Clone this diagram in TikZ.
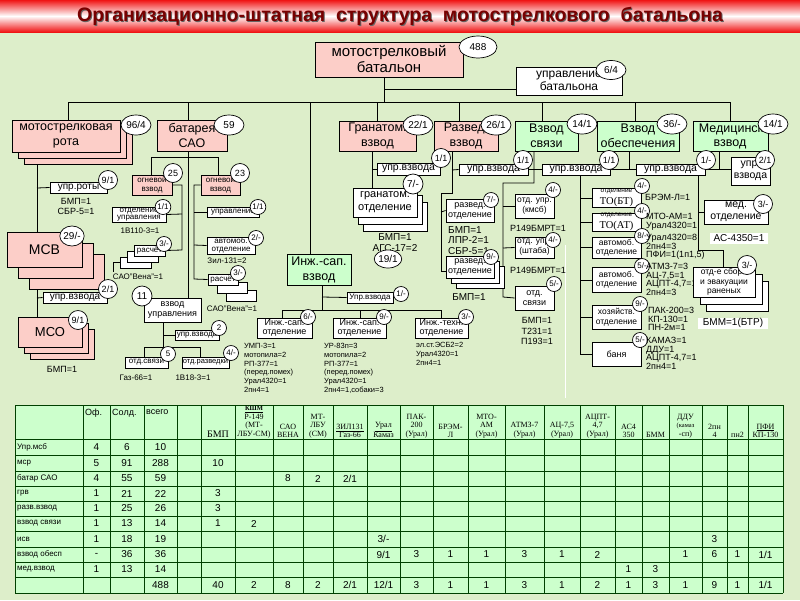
\documentclass[tikz,border=0pt]{standalone}
\usepackage{fontspec}
\setmainfont{Liberation Sans}
\newfontfamily\serifx{Liberation Serif}
\usetikzlibrary{shapes.geometric,backgrounds}
\definecolor{bgc}{RGB}{221,238,202}
\definecolor{pinkc}{RGB}{252,206,200}
\definecolor{greenc}{RGB}{204,255,204}
\definecolor{cellc}{RGB}{204,255,204}
\definecolor{titlec}{RGB}{120,0,0}
\definecolor{bandc}{RGB}{240,20,20}
\newcommand\fs[2]{\fontsize{#1}{#2}\selectfont}
\newcommand\bx[7]{\node[#6, minimum width={#4pt-#2pt}, minimum height={#5pt-#3pt}] (#1) at ({(#2+#4)/2},{(#3+#5)/2}) {#7};}
\newcommand\el[6]{\node[lab, minimum width=#4pt, minimum height=#5pt] (#1) at (#2,#3) {#6};}
\newcommand\es[4]{\node[lab, font=\fs{8}{9}, minimum width=15pt, minimum height=15pt] (#1) at (#2,#3) {#4};}
\newcommand\elm[4]{\node[lab, font=\fs{9}{10}, minimum width=19pt, minimum height=19pt] (#1) at (#2,#3) {#4};}
\newcommand\colx[1]{\ifcase\numexpr#1\relax 15\or 83\or 110\or 144\or 177\or 201\or 235\or 273\or 303\or 333\or 367\or 400\or 433\or 468\or 505\or 544\or 580\or 615\or 642\or 669\or 702\or 727\or 748\or 783\fi}
\newcommand\rowy[1]{\ifcase\numexpr#1\relax 405\or 439\or 455\or 471\or 486\or 501\or 516\or 531\or 547\or 562\or 577\or 593\fi}
\newcommand\tc[3]{\pgfmathsetmacro\xa{(\colx{#2}+\colx{#2+1})/2}\pgfmathsetmacro\ya{(\rowy{#1}+\rowy{#1+1})/2}\node[tnum] (t#1x#2) at (\xa,\ya) {#3};}
\newcommand\hdr[2]{\pgfmathsetmacro\xa{(\colx{#1}+\colx{#1+1})/2}\node[hd, anchor=south] (h#1) at (\xa,438) {#2};}
\tikzset{
  pbox/.style={draw=black, fill=pinkc, inner sep=0pt, align=center, line width=0.8pt},
  gbox/.style={draw=black, fill=greenc, inner sep=0pt, align=center, line width=0.8pt},
  wbox/.style={draw=black, fill=white, inner sep=0pt, align=center, line width=0.8pt},
  lab/.style={ellipse, draw=black, fill=white, inner sep=0pt, line width=0.7pt, font=\fs{10}{11}},
  txt/.style={inner sep=0pt, align=left, font=\fs{9}{10}},
  ln/.style={line width=0.8pt, draw=black},
  tl/.style={line width=1pt, draw=black!75!green},
  tnum/.style={inner sep=0pt, font=\fs{10}{11}},
  hd/.style={inner sep=0pt, align=center, font=\serifx\fs{8}{8.5}},
  rl/.style={inner sep=0pt, anchor=west, font=\fs{8}{9}},
  big/.style={font=\fs{12.5}{15}},
}
\begin{document}
\begin{tikzpicture}[x=1pt,y=-1pt]
\useasboundingbox (0,0) rectangle (800,600);
% ---------- title
\node[inner sep=0pt, font=\fs{19.5}{22}\bfseries, text=black!60, xshift=1pt, yshift=-1pt] (titleshadow) at (400,16) {Организационно-штатная\ \ структура\ \ мотострелкового\ \ батальона};
\node[inner sep=0pt, font=\fs{19.5}{22}\bfseries, text=titlec] (title) at (400,16) {Организационно-штатная\ \ структура\ \ мотострелкового\ \ батальона};
% ---------- top level
\bx{bat}{315}{42}{463}{77}{pbox,font=\fs{15}{16}}{мотострелковый\\батальон}
\el{e488}{478}{47}{38}{22}{488}
\bx{upr}{516}{67}{622}{95}{wbox,font=\fs{12}{13.5}}{управление\\батальона}
\el{e64}{611}{70}{30}{19}{6/4}
% ---------- second level
\bx{rota3}{24}{132}{132}{164}{pbox}{}
\bx{rota2}{18}{126}{126}{158}{pbox}{}
\bx{rota}{12}{120}{120}{152}{pbox,big}{мотострелковая\\рота}
\el{erota}{136}{125}{30}{20}{96/4}
\bx{bsao}{157}{120}{227}{151}{pbox,big}{батарея\\САО}
\el{ebsao}{229}{125}{30}{20}{59}
\bx{gran}{339}{121}{416}{151}{pbox,big}{Гранатом.\\взвод}
\el{egran}{418}{125}{30}{20}{22/1}
\bx{razv}{434}{121}{498}{151}{pbox,big}{Развед.\\взвод}
\el{erazv}{496}{125}{30}{20}{26/1}
\bx{svz}{515}{121}{578}{151}{gbox,big}{Взвод\\связи}
\el{esvz}{582}{124}{30}{20}{14/1}
\bx{obs}{597}{121}{679}{151}{gbox,big}{Взвод\\обеспечения}
\el{eobs}{672}{124}{30}{20}{36/-}
\bx{med}{693}{121}{768}{151}{gbox}{}
\node[inner sep=0pt, big] (medt1) at (738,129) {Медицинский};
\node[inner sep=0pt, big] (medt2) at (730,144) {взвод};
\el{emed}{773}{124}{30}{20}{14/1}
% ---------- рота
\bx{uprr}{50}{182}{107}{193}{wbox,font=\fs{10}{11}}{упр.роты}
\elm{euprr}{108}{180}{9/1}
\node[txt, align=center] (uprrt) at (76,206) {БМП=1\\СБР-5=1};
\bx{msv3}{29}{254}{104}{289}{pbox}{}
\bx{msv2}{18}{243}{93}{278}{pbox}{}
\bx{msv}{7}{232}{82}{267}{pbox,font=\fs{14}{16}}{МСВ}
\el{emsv}{72}{236}{20}{20}{29/-}
\bx{uprv}{43}{292}{107}{303}{wbox,font=\fs{10}{11}}{упр.взвода}
\elm{euprv}{108}{289}{2/1}
\bx{mso3}{30}{329}{94}{359}{pbox}{}
\bx{mso2}{24}{323}{88}{353}{pbox}{}
\bx{mso}{18}{317}{82}{347}{pbox,font=\fs{13}{15}}{МСО}
\elm{emso}{78}{320}{9/1}
\node[txt] (msot) at (62,369) {БМП=1};
% ---------- батарея
\bx{ognL}{132}{175}{172}{195}{pbox,font=\fs{8}{9}}{огневой\\взвод}
\elm{eognL}{173}{173}{25}
\bx{ognR}{201}{175}{240}{195}{pbox,font=\fs{8}{9}}{огневой\\взвод}
\elm{eognR}{240}{173}{23}
\bx{otdu}{112}{207}{166}{222}{wbox,font=\fs{8}{7.5}}{отделение\\управления}
\es{eotdu}{163}{207}{1/1}
\node[txt, font=\fs{8}{9}] (otdut) at (140,231) {1В110-3=1};
\bx{rasL3}{120}{257}{151}{268}{wbox}{}
\bx{rasL2}{127}{251}{158}{262}{wbox}{}
\bx{rasL}{134}{245}{165}{256}{wbox,font=\fs{8}{9}}{расчёт}
\es{erasL}{164}{244}{3/-}
\node[txt, font=\fs{8}{9}] (rasLt) at (138,277) {САО"Вена"=1};
\bx{uprb}{207}{207}{259}{217}{wbox,font=\fs{8}{9}}{управление}
\es{euprb}{258}{207}{1/1}
\bx{avtb}{207}{237}{255}{254}{wbox,font=\fs{8}{8}}{автомоб.\\отделение}
\es{eavtb}{256}{238}{2/-}
\node[txt, font=\fs{8}{9}] (avtbt) at (227,261) {Зил-131=2};
\bx{rasR3}{226}{290}{256}{301}{wbox}{}
\bx{rasR2}{217}{282}{247}{293}{wbox}{}
\bx{rasR}{208}{274}{238}{285}{wbox,font=\fs{8}{9}}{расчёт}
\es{erasR}{238}{273}{3/-}
\node[txt, font=\fs{8}{9}] (rasRt) at (232,309) {САО"Вена"=1};
\bx{vzu}{144}{298}{201}{322}{wbox,font=\fs{9}{10}}{взвод\\управления}
\el{evzu}{142}{296}{20}{20}{11}
\bx{uprvb}{175}{330}{219}{340}{wbox,font=\fs{8}{9}}{упр.взвода}
\es{euprvb}{219}{328}{2}
\bx{otsv}{125}{357}{168}{368}{wbox,font=\fs{8}{9}}{отд.связи}
\es{eotsv}{168}{354}{5}
\bx{otrz}{182}{357}{229}{368}{wbox,font=\fs{7.5}{9}}{отд.разведки}
\es{eotrz}{231}{353}{4/-}
\node[txt, font=\fs{8}{9}] (otsvt) at (136,378) {Газ-66=1};
\node[txt, font=\fs{8}{9}] (otrzt) at (193,378) {1В18-3=1};
% ---------- инж.-сап.
\bx{isv}{287}{254}{351}{285}{gbox,big}{Инж.-сап.\\взвод}
\bx{uprisv}{347}{292}{393}{303}{wbox,font=\fs{8}{9}}{Упр.взвода}
\es{euprisv}{401}{294}{1/-}
\bx{isL}{257}{318}{312}{338}{wbox,font=\fs{9}{9.5}}{Инж.-сап.\\отделение}
\es{eisL}{308}{317}{6/-}
\bx{isM}{333}{318}{386}{338}{wbox,font=\fs{9}{9.5}}{Инж.-сап.\\отделение}
\es{eisM}{384}{317}{9/-}
\bx{isR}{415}{318}{468}{338}{wbox,font=\fs{9}{9.5}}{Инж.-техн.\\отделение}
\es{eisR}{466}{317}{3/-}
\node[txt, anchor=north west, font=\fs{7.5}{8.8}] (isLt) at (244,343) {УМП-3=1\\мотопила=2\\РП-377=1\\(перед.помех)\\Урал4320=1\\2пн4=1};
\node[txt, anchor=north west, font=\fs{7.5}{8.8}] (isMt) at (324,343) {УР-83п=3\\мотопила=2\\РП-377=1\\(перед.помех)\\Урал4320=1\\2пн4=1,собаки=3};
\node[txt, anchor=north west, font=\fs{7.5}{8.8}] (isRt) at (416,342) {эл.ст.ЭСБ2=2\\Урал4320=1\\2пн4=1};
% ---------- гранатом.
\bx{uprg}{377}{163}{440}{175}{wbox,font=\fs{10.5}{12}}{упр.взвода}
\elm{euprg}{441}{158}{1/1}
\bx{grot3}{363}{202}{427}{231}{wbox}{}
\bx{grot2}{358}{195}{422}{224}{wbox}{}
\bx{grot}{353}{188}{417}{217}{wbox,font=\fs{11}{13}}{гранатом.\\отделение}
\el{egrot}{413}{184}{20}{20}{7/-}
\node[txt, align=center, font=\fs{10}{11}] (grott) at (395,243) {БМП=1\\АГС-17=2};
\el{e191}{388}{259}{26}{18}{19/1}
% ---------- развед.
\bx{uprz}{459}{164}{528}{175}{wbox,font=\fs{10.5}{12}}{упр.взвода}
\elm{euprz}{523}{160}{1/1}
\bx{rzo}{446}{199}{494}{222}{wbox,font=\fs{9}{10}}{развед.\\отделение}
\es{erzo}{491}{200}{7/-}
\node[txt, anchor=north west, font=\fs{10}{10.5}] (rzot) at (448,226) {БМП=1\\ЛПР-2=1\\СБР-5=1};
\bx{rzo3}{456}{266}{504}{288}{wbox}{}
\bx{rzo2}{451}{261}{499}{283}{wbox}{}
\bx{rzoB}{446}{256}{494}{278}{wbox,font=\fs{9}{10}}{развед.\\отделение}
\es{erzoB}{491}{257}{9/-}
\node[txt, font=\fs{10}{11}] (rzoBt) at (469,297) {БМП=1};
% ---------- связи
\bx{uprs}{542}{164}{610}{175}{wbox,font=\fs{10.5}{12}}{упр.взвода}
\elm{euprs}{609}{160}{1/1}
\bx{svk}{515}{194}{554}{218}{wbox,font=\fs{8.5}{10}}{отд. упр.\\(кмсб)}
\es{esvk}{553}{190}{4/-}
\node[txt] (svkt) at (538,228) {Р149БМРТ=1};
\bx{svs}{515}{237}{554}{258}{wbox,font=\fs{8.5}{10}}{отд. упр.\\(штаба)}
\es{esvs}{553}{240}{4/-}
\node[txt] (svst) at (538,270) {Р149БМРТ=1};
\bx{svo}{515}{286}{554}{310}{wbox,font=\fs{9}{10}}{отд.\\связи}
\es{esvo}{554}{284}{5/-}
\node[txt, align=center, font=\fs{9}{10.5}] (svot) at (537,331) {БМП=1\\Т231=1\\П193=1};
% ---------- обеспечения
\bx{upro}{636}{164}{705}{175}{wbox,font=\fs{10.5}{12}}{упр.взвода}
\elm{eupro}{706}{160}{1/-}
\bx{tobt}{592}{188}{641}{207}{wbox}{{\fs{6.5}{6.5}отделение}\\{\serifx\fs{10.5}{10}ТО(БТ)}}
\es{etobt}{642}{186}{4/-}
\bx{toat}{592}{213}{641}{231}{wbox}{{\fs{6.5}{6.5}отделение}\\{\serifx\fs{10.5}{10}ТО(АТ)}}
\es{etoat}{642}{211}{4/-}
\bx{avo1}{592}{237}{641}{258}{wbox,font=\fs{8.5}{9.5}}{автомоб.\\отделение}
\es{eavo1}{642}{236}{8/-}
\bx{avo2}{592}{267}{641}{292}{wbox,font=\fs{8.5}{9.5}}{автомоб.\\отделение}
\es{eavo2}{642}{266}{5/-}
\bx{hoz}{592}{305}{641}{329}{wbox,font=\fs{8.5}{9.5}}{хозяйств.\\отделение}
\es{ehoz}{640}{304}{9/-}
\bx{ban}{592}{342}{641}{366}{wbox,font=\fs{9}{10}}{баня}
\es{eban}{640}{340}{5/-}
\node[txt, anchor=north west, font=\fs{9}{8.6}] (tobtt) at (645,194) {БРЭМ-Л=1};
\node[txt, anchor=north west, font=\fs{9}{8.6}] (toatt) at (646,213) {МТО-АМ=1\\Урал4320=1};
\node[txt, anchor=north west, font=\fs{9}{8.6}] (avo1t) at (646,234) {Урал4320=8\\2пн4=3\\ПФИ=1(1п1,5)};
\node[txt, anchor=north west, font=\fs{9}{8.6}] (avo2t) at (646,263) {АТМЗ-7=3\\АЦ-7,5=1\\АЦПТ-4,7=1\\2пн4=3};
\node[txt, anchor=north west, font=\fs{9}{8.6}] (hozt) at (648,307) {ПАК-200=3\\КП-130=1\\ПН-2м=1};
\node[txt, anchor=north west, font=\fs{9}{8.6}] (bant) at (646,337) {КАМАЗ=1\\ДДУ=1\\АЦПТ-4,7=1\\2пн4=1};
% ---------- медицинский
\bx{uprm}{731}{157}{770}{185}{wbox,font=\fs{10.5}{12}}{упр.\\взвода}
\elm{euprm}{765}{160}{2/1}
\bx{mdo}{704}{200}{768}{224}{wbox,font=\fs{10.5}{12}}{мед.\\отделение}
\elm{emdo}{763}{204}{3/-}
\node[fill=white, inner sep=0pt, minimum width=58pt, minimum height=11pt, font=\fs{10}{11}] (mdot) at (739,238) {АС-4350=1};
\bx{sbr3}{706}{281}{768}{311}{wbox}{}
\bx{sbr2}{700}{274}{762}{304}{wbox}{}
\bx{sbr}{693}{267}{755}{297}{wbox,font=\fs{8.5}{9.5}}{отд-е сбора\\и эвакуации\\раненых}
\elm{esbr}{747}{265}{3/-}
\node[fill=white, inner sep=0pt, minimum width=70pt, minimum height=11pt, font=\fs{10}{11}] (sbrt) at (733,323) {БММ=1(БТР)};
% ---------- connectors (under the boxes)
\begin{pgfonlayer}{background}
\fill[bgc] (0,0) rectangle (800,600);
\shade[top color=bandc, bottom color=bandc, middle color=white] (0,0) rectangle (800,32);
\draw[white, line width=1pt] (565,245) -- (565,398);
\draw[ln] (384,77) -- (384,102);
\draw[ln] (384,89) -- (516,89);
\draw[ln] (68,102) -- (730,102);
\foreach \x in {68,188,377,459,542,635,730} \draw[ln] (\x,102) -- (\x,121);
\draw[ln] (310,102) -- (310,254);
% рота
\draw[ln] (37,152) -- (37,317);
\draw[ln] (37,188) -- (uprr.west);
\draw[ln] (37,298) -- (uprv.west);
% батарея
\draw[ln] (188,151) -- (188,298);
\draw[ln] (151,175) -- (151,157) -- (218,157) -- (218,175);
\draw[ln] (ognL.east) -- (182,185) -- (182,250) -- (rasL.east);
\draw[ln] (182,214) -- (otdu.east);
\draw[ln] (120,262) -| (113,272);
\draw[ln] (ognR.west) -- (194,185) -- (194,279) -- (rasR.west);
\draw[ln] (194,212) -- (uprb.west);
\draw[ln] (194,245) -- (avtb.west);
\draw[ln] (163,322) -- (163,347);
\draw[ln] (163,335) -- (uprvb.west);
\draw[ln] (144,357) -- (144,347) -- (200,347) -- (200,357);
% инж.-сап.
\draw[ln] (322,285) -- (322,310);
\draw[ln] (322,297) -- (uprisv.west);
\draw[ln] (282,318) -- (282,310) -- (441,310) -- (441,318);
\draw[ln] (360,310) -- (360,318);
% гранатом.
\draw[ln] (372,151) -- (372,188);
\draw[ln] (372,169) -- (uprg.west);
% развед.
\draw[ln] (452,151) -- (452,193) -- (441,193) -- (441,271) -- (446,271);
\draw[ln] (452,170) -- (uprz.west);
\draw[ln] (441,212) -- (rzo.west);
% связи
\draw[ln] (uprz.east) -- (uprs.west);
\draw[ln] (534,151) -- (534,183) -- (503,183) -- (503,297) -- (svo.west);
\draw[ln] (503,206) -- (svk.west);
\draw[ln] (503,248) -- (svs.west);
% обеспечения
\draw[ln] (629,151) -- (629,169);
\draw[ln] (610,169) -- (636,169);
\draw[ln] (580,175) -- (580,354) -- (ban.west);
\foreach \y in {198,222,247,280,317} \draw[ln] (580,\y) -- (592,\y);
% медицинский
\draw[ln] (719,151) -- (719,169);
\draw[ln] (705,169) -- (731,169);
\draw[ln] (698,175) -- (698,250) -- (723,250) -- (723,267);
\draw[ln] (698,212) -- (mdo.west);
\end{pgfonlayer}
% ---------- table
\fill[cellc] (15,405) rectangle (783,593);
\foreach \x in {15,83,110,144,177,201,235,273,303,333,367,400,433,468,505,544,580,615,642,669,702,727,748,783} \draw[tl] (\x,405) -- (\x,593);
\foreach \y in {405,439,455,471,486,501,516,531,547,562,577,593} \draw[tl] (15,\y) -- (783,\y);
\node[inner sep=0pt, font=\fs{9}{10}, anchor=north west] (hof) at (85,409) {Оф.};
\node[inner sep=0pt, font=\fs{9}{10}, anchor=north west] (hsol) at (112,409) {Солд.};
\node[inner sep=0pt, font=\fs{9}{10}, anchor=north west] (hvs) at (146,409) {всего};
\hdr{5}{\fs{10}{10}БМП}
\hdr{6}{\fs{6.5}{6.5}\bfseries\underline{КШМ}\\Р-149\\(МТ-\\ЛБУ-СМ)}
\hdr{7}{САО\\ВЕНА}
\hdr{8}{МТ-\\ЛБУ\\(СМ)}
\hdr{9}{\underline{ЗИЛ131}\\Газ-66}
\hdr{10}{\underline{Урал}\\Камаз}
\hdr{11}{ПАК-\\200\\(Урал)}
\hdr{12}{БРЭМ-\\Л}
\hdr{13}{МТО-\\АМ\\(Урал)}
\hdr{14}{АТМЗ-7\\(Урал)}
\hdr{15}{АЦ-7,5\\(Урал)}
\hdr{16}{АЦПТ-\\4,7\\(Урал)}
\hdr{17}{АС4\\350}
\hdr{18}{БММ}
\hdr{19}{ДДУ\\{\fs{6.5}{7}(камаз}\\-сп)}
\hdr{20}{2пн\\4}
\hdr{21}{пн2}
\hdr{22}{\underline{ПФИ}\\КП-130}
\foreach \r/\t in {1/Упр.мсб,2/мср,3/батар САО,4/грв,5/разв.взвод,6/взвод связи,7/исв,8/взвод обесп,9/мед.взвод} {
  \pgfmathsetmacro\yc{(\rowy{\r}+\rowy{\r+1})/2}
  \node[rl] (rl\r) at (17,\yc) {\t};
}
\tc{1}{1}{4}\tc{1}{2}{6}\tc{1}{3}{10}
\tc{2}{1}{5}\tc{2}{2}{91}\tc{2}{3}{288}\tc{2}{5}{10}
\tc{3}{1}{4}\tc{3}{2}{55}\tc{3}{3}{59}\tc{3}{7}{8}\tc{3}{8}{2}\tc{3}{9}{2/1}
\tc{4}{1}{1}\tc{4}{2}{21}\tc{4}{3}{22}\tc{4}{5}{3}
\tc{5}{1}{1}\tc{5}{2}{25}\tc{5}{3}{26}\tc{5}{5}{3}
\tc{6}{1}{1}\tc{6}{2}{13}\tc{6}{3}{14}\tc{6}{5}{1}\tc{6}{6}{2}
\tc{7}{1}{1}\tc{7}{2}{18}\tc{7}{3}{19}\tc{7}{10}{3/-}\tc{7}{20}{3}
\tc{8}{1}{-}\tc{8}{2}{36}\tc{8}{3}{36}\tc{8}{10}{9/1}\tc{8}{11}{3}\tc{8}{12}{1}\tc{8}{13}{1}\tc{8}{14}{3}\tc{8}{15}{1}\tc{8}{16}{2}\tc{8}{19}{1}\tc{8}{20}{6}\tc{8}{21}{1}\tc{8}{22}{1/1}
\tc{9}{1}{1}\tc{9}{2}{13}\tc{9}{3}{14}\tc{9}{17}{1}\tc{9}{18}{3}
\tc{10}{3}{488}\tc{10}{5}{40}\tc{10}{6}{2}\tc{10}{7}{8}\tc{10}{8}{2}\tc{10}{9}{2/1}\tc{10}{10}{12/1}\tc{10}{11}{3}\tc{10}{12}{1}\tc{10}{13}{1}\tc{10}{14}{3}\tc{10}{15}{1}\tc{10}{16}{2}\tc{10}{17}{1}\tc{10}{18}{3}\tc{10}{19}{1}\tc{10}{20}{9}\tc{10}{21}{1}\tc{10}{22}{1/1}
\end{tikzpicture}
\end{document}
